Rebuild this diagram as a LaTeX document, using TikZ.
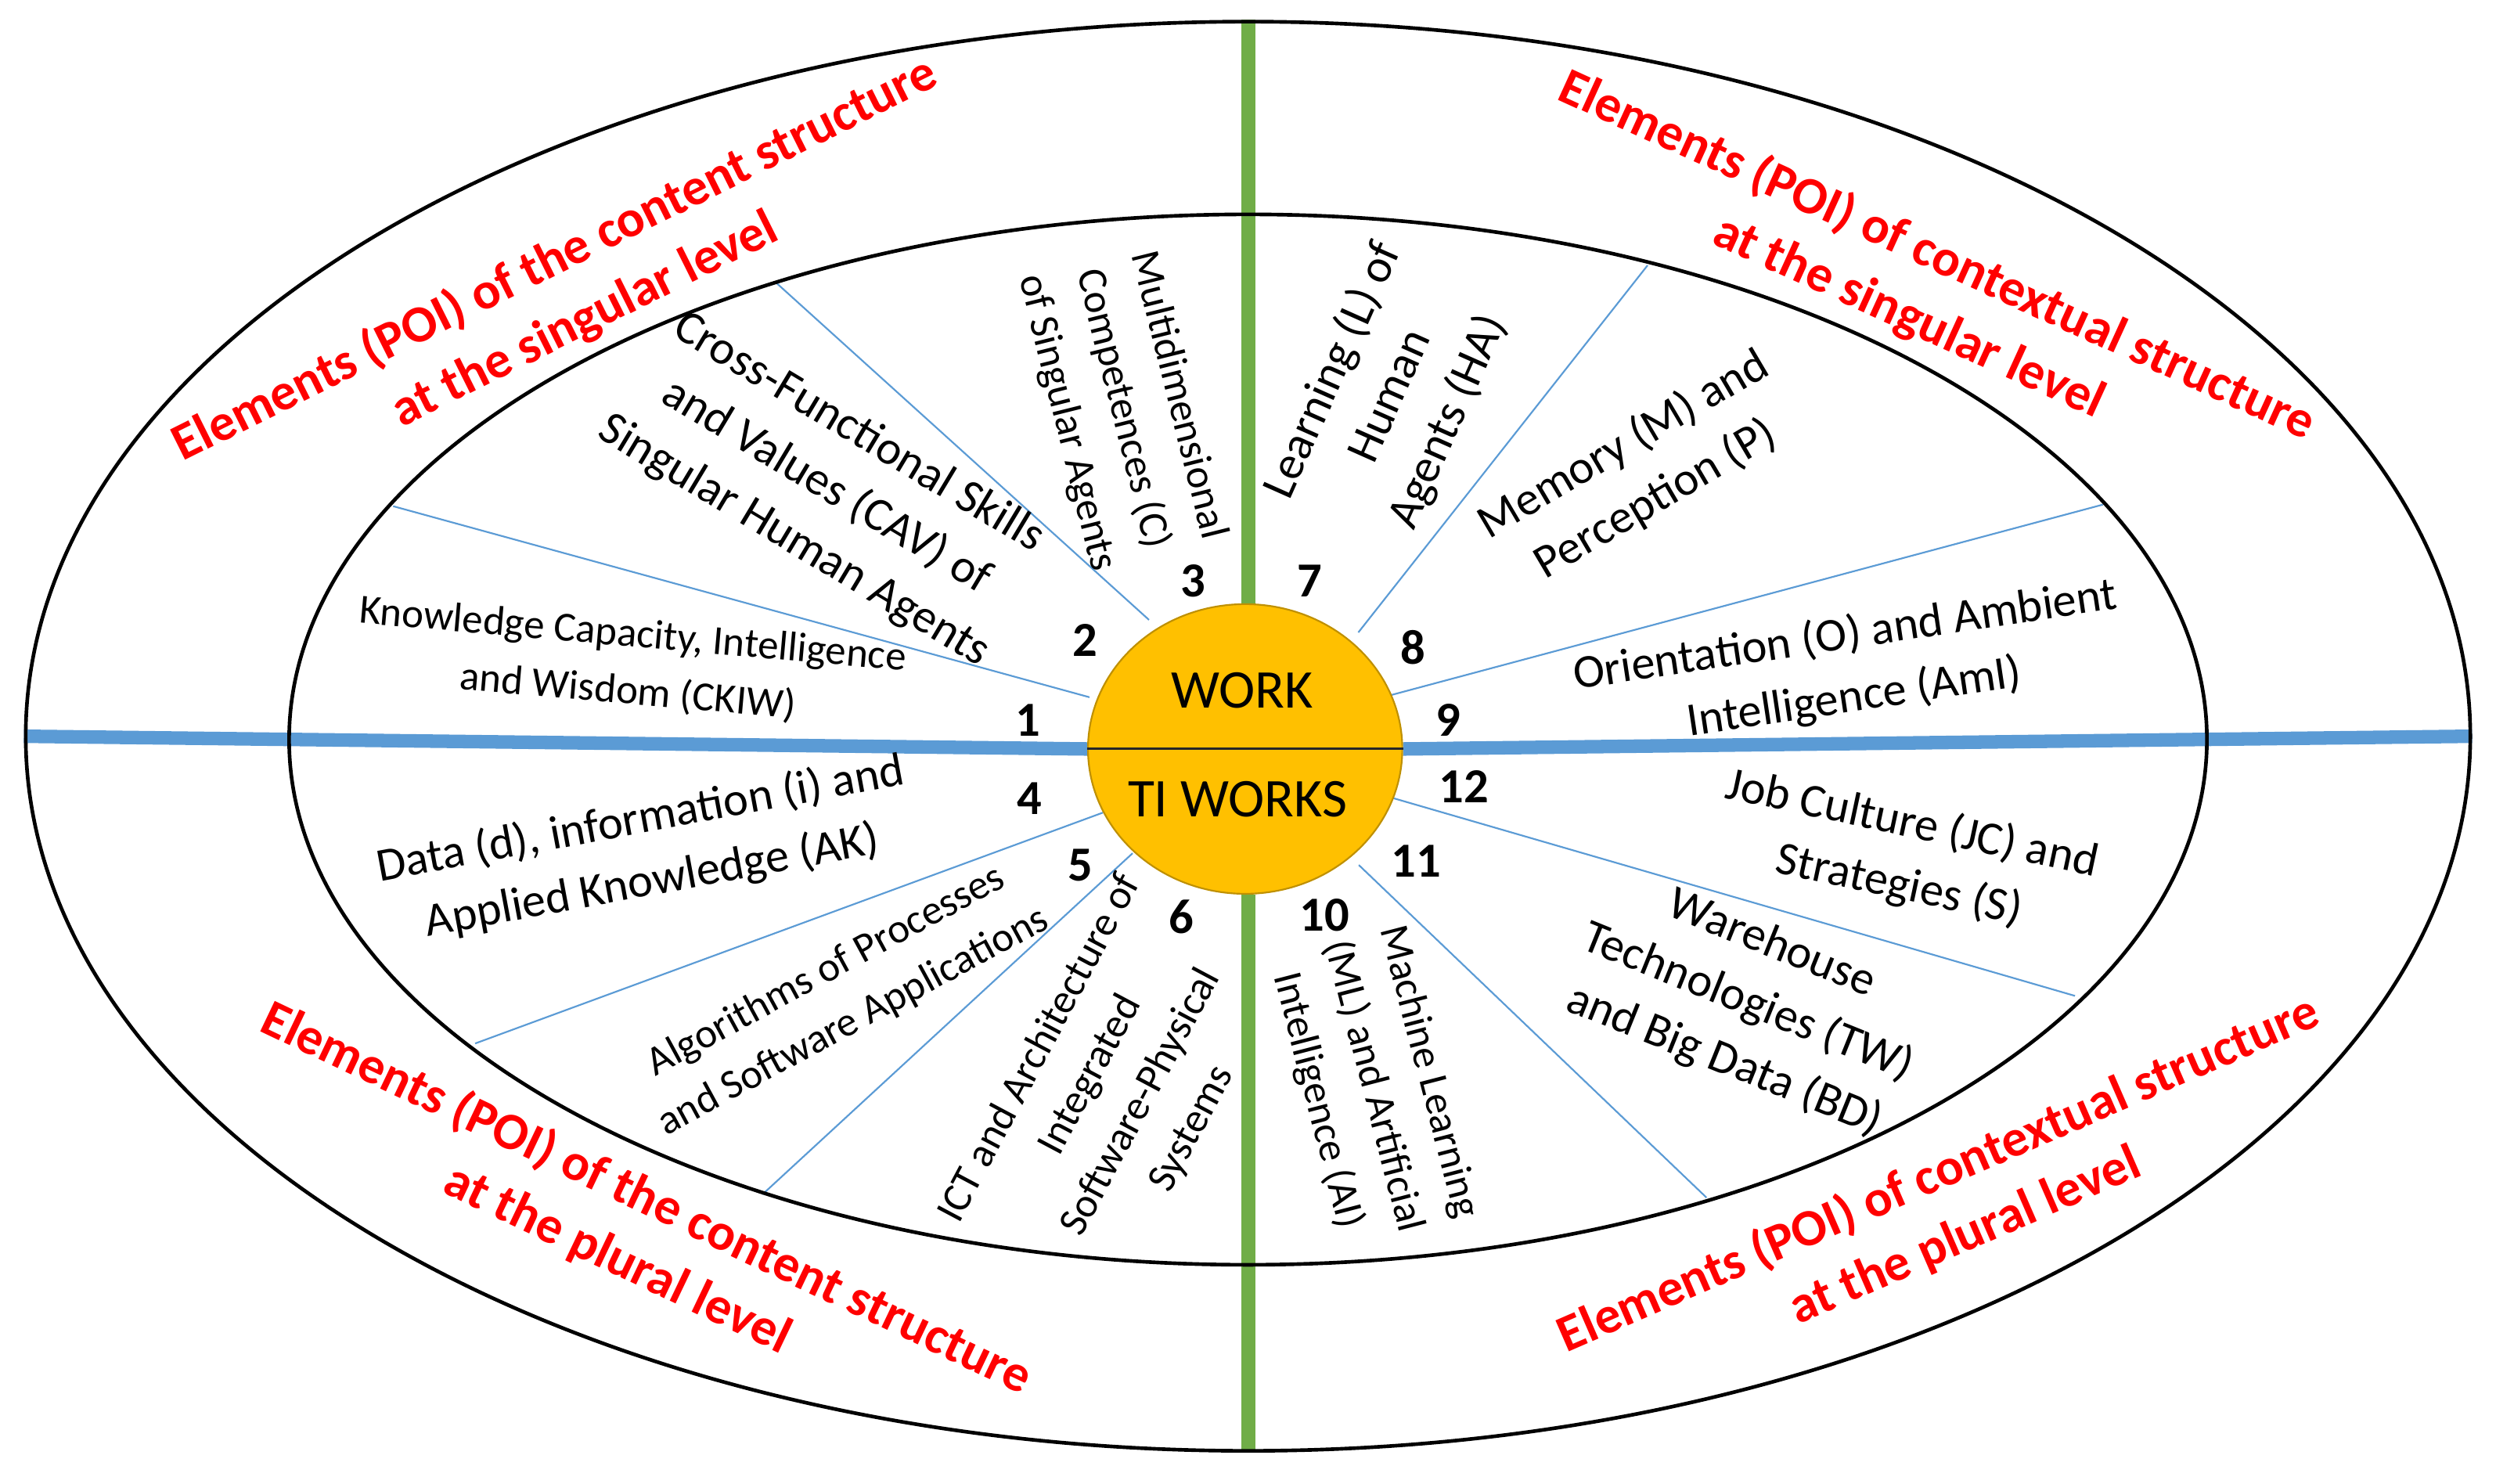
\documentclass[tikz,border=0pt]{standalone}
\usepackage{fontspec}
\setmainfont{Carlito}
\usetikzlibrary{shapes.geometric,backgrounds}
\definecolor{hubfill}{HTML}{FFC000}
\definecolor{hubline}{HTML}{BF9000}
\definecolor{axisblue}{HTML}{5B9BD5}
\definecolor{axisgreen}{HTML}{70AD47}
\definecolor{titlered}{HTML}{FF0000}
\tikzset{
  ring/.style={draw=black, line width=1.3pt, ellipse, inner sep=0pt},
  spoke/.style={draw=axisblue, line width=0.6pt},
  haxis/.style={draw=axisblue, line width=0.17cm},
  vaxis/.style={draw=axisgreen, line width=0.177cm},
  lbl/.style={font=\fontsize{14.8}{20.5}\selectfont, align=center, inner sep=0pt},
  biglbl/.style={font=\fontsize{16.9}{22.5}\selectfont, align=center, inner sep=0pt},
  num/.style={font=\bfseries\fontsize{17.5}{20}\selectfont, inner sep=0pt},
  redlbl/.style={font=\bfseries\fontsize{18.6}{24}\selectfont, text=titlered, align=center, inner sep=0pt},
  hubtxt/.style={font=\fontsize{19.5}{22}\selectfont, inner sep=0pt}
}
\begin{document}
\begin{tikzpicture}[x=0.02cm,y=-0.02cm]
\useasboundingbox (0,0) rectangle (1568,932);
% rings and hub
\node[ring, minimum width=30.72cm, minimum height=17.96cm] (outer) at (784,462.5) {};
\node[ring, minimum width=24.1cm, minimum height=13.2cm] (inner) at (784,464.6) {};
\node[ellipse, draw=hubline, fill=hubfill, line width=0.6pt, minimum width=3.95cm, minimum height=3.64cm, inner sep=0pt] (hub) at (782.2,470.5) {};
\draw[black!85, line width=0.8pt] (hub.west) -- (hub.east);
% spoke end points
\coordinate (s1a) at (684.4,438);   \coordinate (s1b) at (247,318);
\coordinate (s2a) at (721.8,389.4); \coordinate (s2b) at (488,178);
\coordinate (s3a) at (853.3,397.3); \coordinate (s3b) at (1035,166.7);
\coordinate (s4a) at (872.5,437);   \coordinate (s4b) at (1321,317);
\coordinate (s5a) at (872.5,500.6); \coordinate (s5b) at (1303.5,625.6);
\coordinate (s6a) at (853.6,543.4); \coordinate (s6b) at (1072,752.3);
\coordinate (s7a) at (711.5,536);   \coordinate (s7b) at (479,750.3);
\coordinate (s8a) at (692.8,510.5); \coordinate (s8b) at (298.5,655.5);
\begin{scope}[on background layer]
\fill[white] (0,0) rectangle (1568,932);
\foreach \s in {1,...,8} {\draw[spoke] (s\s a) -- (s\s b);}
\draw[haxis] (outer.west) -- (hub.west);
\draw[haxis] (hub.east) -- (outer.east);
\draw[vaxis] (outer.north) -- (outer.north |- hub.north);
\draw[vaxis] (outer.south |- hub.south) -- (outer.south);
\end{scope}
% hub texts
\node[hubtxt] (work) at (780.3,433.6) {WORK};
\node[hubtxt] (tiworks) at (777.4,502) {TI WORKS};
% numbers
\node[num] (n1) at (645.6,452.4) {1};
\node[num] (n2) at (681.5,402.3) {2};
\node[num] (n3) at (749.3,364.8) {3};
\node[num] (n4) at (646.6,501.6) {4};
\node[num] (n5) at (678.5,543.3) {5};
\node[num] (n6) at (742,576) {6};
\node[num] (n7) at (822.6,364.8) {7};
\node[num] (n8) at (887.5,406.6) {8};
\node[num] (n9) at (910,452.4) {9};
\node[num] (n10) at (832,575) {10};
\node[num] (n11) at (889.5,541) {11};
\node[num] (n12) at (919.5,494) {12};
% sector labels
\node[lbl, rotate=-5] (t1) at (396,417) {Knowledge Capacity, Intelligence\\and Wisdom (CKIW)};
\node[biglbl, rotate=-31] (t2) at (519,306) {Cross-Functional Skills\\and Values (CAV) of\\Singular Human Agents};
\node[lbl, rotate=-76] (t3) at (705,257) {Multidimensional\\Competences (C)\\of Singular Agents};
\node[biglbl, rotate=10.5] (t4) at (406,534.5) {Data (d), information (i) and\\Applied Knowledge (AK)};
\node[lbl, rotate=28.5] (t5) at (527.5,626) {Algorithms of Processes\\and Software Applications};
\node[lbl, rotate=62] (t6) at (701,684) {ICT and Architecture of\\Integrated\\Software-Physical\\Systems};
\node[biglbl, rotate=66] (t7) at (873.5,249) {Learning (L) of\\Human\\Agents (HA)};
\node[biglbl, rotate=30.5] (t8) at (1030,296.5) {Memory (M) and\\Perception (P)};
\node[biglbl, rotate=8.5] (t9) at (1162,419) {Orientation (O) and Ambient\\Intelligence (AmI)};
\node[lbl, rotate=-75.5] (t10) at (862.5,682.5) {Machine Learning\\(ML) and Artificial\\Intelligence (AI)};
\node[biglbl, rotate=-22] (t11) at (1098,630) {Warehouse\\Technologies (TW)\\and Big Data (BD)};
\node[biglbl, rotate=-12] (t12) at (1197,537) {Job Culture (JC) and\\Strategies (S)};
% quadrant titles
\node[redlbl, rotate=26.5] (qtl) at (358,182) {Elements (POI) of the content structure\\at the singular level};
\node[redlbl, rotate=-24.5] (qtr) at (1208,180) {Elements (POI) of contextual structure\\at the singular level};
\node[redlbl, rotate=-25.5] (qbl) at (397,772) {Elements (POI) of the content structure\\at the plural level};
\node[redlbl, rotate=23.5] (qbr) at (1226,757) {Elements (POI) of contextual structure\\at the plural level};
\end{tikzpicture}
\end{document}
